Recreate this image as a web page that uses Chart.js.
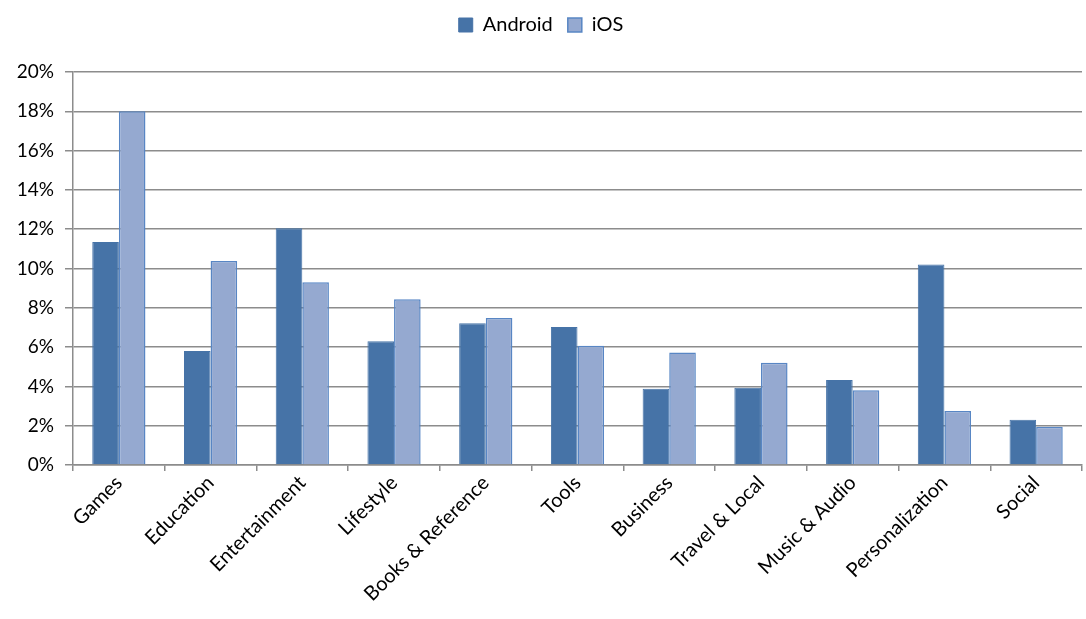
<!DOCTYPE html>
<html>
<head>
<meta charset="utf-8">
<script src="https://cdn.jsdelivr.net/npm/chart.js@4.4.0/dist/chart.umd.min.js"></script>
<style>
  html, body { margin: 0; padding: 0; background: #fff; }
  #wrap { width: 1086px; height: 619px; }
</style>
</head>
<body>
<div id="wrap"><canvas id="appChart"></canvas></div>
<script>
// categories + share of apps per platform (in %)
const categories = ['Games', 'Education', 'Entertainment', 'Lifestyle', 'Books & Reference',
  'Tools', 'Business', 'Travel & Local', 'Music & Audio', 'Personalization', 'Social'];
const android = [11.35, 5.8, 12.05, 6.3, 7.22, 7.02, 3.88, 3.93, 4.33, 10.2, 2.3];
const ios = [18.0, 10.38, 9.3, 8.43, 7.48, 6.07, 5.72, 5.2, 3.8, 2.75, 1.95];
const yTicks = [0, 2, 4, 6, 8, 10, 12, 14, 16, 18, 20];

const gridGray = '#8c8c8c';
const fontFam = 'Lato, "Liberation Sans", sans-serif';

// push the plot area down so it starts under the legend like the original
const legendHeight = {
  id: 'legendHeight',
  beforeInit(chart) {
    const fit = chart.legend.fit;
    chart.legend.fit = function () {
      fit.call(this);
      this.height = 72;
    };
  },
};

const ctx = document.getElementById('appChart');
new Chart(ctx, {
  type: 'bar',
  data: {
    labels: categories,
    datasets: [
      {
        label: 'Android',
        data: android,
        backgroundColor: '#4673a7',
        borderColor: '#4673a7',
        borderWidth: 1,
      },
      {
        label: 'iOS',
        data: ios,
        backgroundColor: '#95a9d0',
        borderColor: '#5886c4',
        borderWidth: 1.5,
      },
    ],
  },
  options: {
    responsive: true,
    maintainAspectRatio: false,
    animation: false,
    layout: { padding: { top: 0, right: 4, left: 0, bottom: 0 } },
    datasets: {
      bar: { categoryPercentage: 0.58, barPercentage: 1.0 },
    },
    plugins: {
      legend: {
        position: 'top',
        labels: {
          font: { family: fontFam, size: 20 },
          color: '#000',
          boxWidth: 14,
          boxHeight: 14,
          padding: 15,
        },
      },
      tooltip: { enabled: false },
    },
    scales: {
      x: {
        grid: {
          display: true,
          drawOnChartArea: false,
          drawTicks: true,
          tickLength: 6,
          color: gridGray,
          lineWidth: 1.5,
        },
        border: { display: true, color: gridGray, width: 1.5 },
        ticks: {
          font: { family: fontFam, size: 20 },
          color: '#000',
          maxRotation: 45,
          minRotation: 45,
          autoSkip: false,
          padding: 0,
        },
        afterFit(scale) { scale.height = 154; },
      },
      y: {
        min: 0,
        max: 20,
        afterBuildTicks(scale) { scale.ticks = yTicks.map(v => ({ value: v })); },
        grid: {
          color: gridGray,
          lineWidth: 1.5,
          tickLength: 8,
        },
        border: { display: true, color: gridGray, width: 1.5 },
        ticks: {
          font: { family: fontFam, size: 19 },
          color: '#000',
          padding: 11,
          callback: v => v + '%',
        },
        afterFit(scale) { scale.width = 73; },
      },
    },
  },
  plugins: [legendHeight],
});
</script>
</body>
</html>
